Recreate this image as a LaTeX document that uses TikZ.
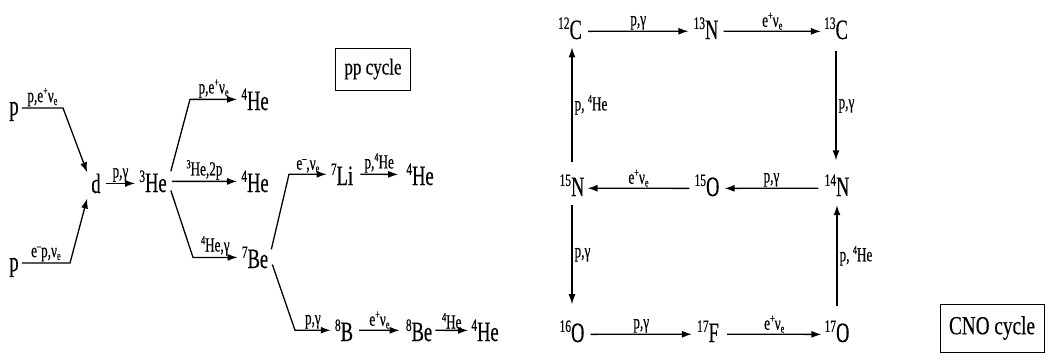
\documentclass[tikz,border=0pt]{standalone}
\usepackage{fontspec}
\setmainfont{Liberation Serif}[FakeStretch=0.66,FakeBold=0.4]
\newfontfamily\boxfont{Liberation Serif}[FakeStretch=0.74,FakeBold=0.3]
\usetikzlibrary{arrows.meta}
\makeatletter
\newcommand\hi[1]{\raisebox{0.36em}{\fontsize{\fpeval{0.62*\f@size}}{\fpeval{0.62*\f@size}}\selectfont #1}}
\newcommand\lo[1]{\raisebox{-0.14em}{\fontsize{\fpeval{0.62*\f@size}}{\fpeval{0.62*\f@size}}\selectfont #1}}
\makeatother
\tikzset{
  el/.style={inner sep=0pt, anchor=base, font=\fontsize{28}{30}\selectfont},
  lab/.style={inner sep=0pt, font=\fontsize{20}{21}\selectfont},
  arr/.style={-{Latex[length=10pt,width=7pt]}, line width=1.3pt},
  boxlab/.style={draw, line width=1pt, inner sep=0pt, font=\boxfont}
}
\begin{document}
\begin{tikzpicture}[x=1pt,y=-1pt]
\useasboundingbox (0,0) rectangle (1047,360);
% ---------------- pp chain ----------------
\node[el] (pA) at (14,115) {p};
\node[el] (pB) at (14,271) {p};
\node[el] (d) at (96,193) {d};
\node[el] (he3) at (153,192) {\hi{3}He};
\node[el] (he4a) at (255,110) {\hi{4}He};
\node[el] (he4b) at (255,192) {\hi{4}He};
\node[el] (be7) at (255,268) {\hi{7}Be};
\node[el] (li7) at (342,185) {\hi{7}Li};
\node[el] (he4c) at (420,185) {\hi{4}He};
\node[el] (b8) at (344,341) {\hi{8}B};
\node[el] (be8) at (419,341) {\hi{8}Be};
\node[el] (he4d) at (485,341) {\hi{4}He};

\coordinate (b1) at (63,108);
\coordinate (b2) at (70,263);
\coordinate (b3) at (190,0);
\coordinate (b4) at (193,0);
\coordinate (b5) at (289,0);
\coordinate (b6) at (295,0);

\draw[arr] ([xshift=3pt]pA.east |- b1) -- node[lab, above=1pt] {p,e\hi{+}ν\lo{e}} (b1)
  -- ([xshift=-4pt,yshift=1pt]d.north west);
\draw[arr] ([xshift=3pt]pB.east |- b2) -- node[lab, above=1pt] {e\hi{--}p,ν\lo{e}} (b2)
  -- ([xshift=-4pt,yshift=-5pt]d.south west);
\draw[arr] ([xshift=5pt]d.east) -- node[lab, above=1pt] {p,γ} ([xshift=-4pt]he3.west |- d.east);

\draw[arr] ([xshift=4pt,yshift=-1pt]he3.north east) -- (b3 |- he4a.west)
  -- node[lab, above=1pt] {p,e\hi{+}ν\lo{e}} ([xshift=-4pt]he4a.west);
\draw[arr] ([xshift=5pt]he3.east) -- node[lab, above=1pt] {\hi{3}He,2p} ([xshift=-4pt]he4b.west);
\draw[arr] ([xshift=4pt,yshift=2pt]he3.south east) -- (b4 |- be7.west)
  -- node[lab, above=1pt] {\hi{4}He,γ} ([xshift=-4pt]be7.west);

\draw[arr] ([xshift=3pt,yshift=-3pt]be7.north east) -- (b5 |- li7.west)
  -- node[lab, above=1pt] {e\hi{--},ν\lo{e}} ([xshift=-4pt]li7.west);
\draw[arr] ([xshift=7pt]li7.east) -- node[lab, above=1pt] {p,\hi{4}He} ([xshift=-8pt]he4c.west);
\draw[arr] ([xshift=4pt,yshift=4pt]be7.south east) -- (b6 |- b8.west)
  -- node[lab, above=1pt] {p,γ} ([xshift=-4pt]b8.west);
\draw[arr] ([xshift=6pt]b8.east) -- node[lab, above=1pt] {e\hi{+}ν\lo{e}} ([xshift=-6pt]be8.west);
\draw[arr] ([xshift=3pt]be8.east) -- node[lab, above=1pt] {\hi{4}He} ([xshift=-3pt]he4d.west);

\node[boxlab, minimum width=75pt, minimum height=42pt, font=\boxfont\fontsize{23}{24}\selectfont] (ppbox) at (373,69) {pp cycle};

% ---------------- CNO cycle ----------------
\node[el] (c12) at (570,39) {\hi{12}C};
\node[el] (n13) at (706,39) {\hi{13}N};
\node[el] (c13) at (836,39) {\hi{13}C};
\node[el] (n15) at (572,196) {\hi{15}N};
\node[el] (o15) at (707,196) {\hi{15}O};
\node[el] (n14) at (837,196) {\hi{14}N};
\node[el] (o16) at (572,342) {\hi{16}O};
\node[el] (f17) at (708,342) {\hi{17}F};
\node[el] (o17) at (837,342) {\hi{17}O};

\draw[arr] ([xshift=6pt,yshift=-3pt]c12.east) -- node[lab, above=1pt] {p,γ} ([xshift=-5pt,yshift=-3pt]n13.west);
\draw[arr] ([xshift=5pt,yshift=-3pt]n13.east) -- node[lab, above=1pt] {e\hi{+}ν\lo{e}} ([xshift=-3pt,yshift=-3pt]c13.west);
\draw[arr] ([xshift=-6pt,yshift=-3pt]n14.west) -- node[lab, above=1pt] {p,γ} ([xshift=5pt,yshift=-3pt]o15.east);
\draw[arr] ([xshift=-5pt,yshift=-3pt]o15.west) -- node[lab, above=1pt] {e\hi{+}ν\lo{e}} ([xshift=3pt,yshift=-3pt]n15.east);
\draw[arr] ([xshift=6pt,yshift=-3pt]o16.east) -- node[lab, above=1pt] {p,γ} ([xshift=-5pt,yshift=-3pt]f17.west);
\draw[arr] ([xshift=8pt,yshift=-3pt]f17.east) -- node[lab, above=1pt] {e\hi{+}ν\lo{e}} ([xshift=-3pt,yshift=-3pt]o17.west);

\draw[arr] ([yshift=12pt]n15.north) -- node[lab, right=2pt] {p,\,\hi{4}He} ([yshift=-8pt]c12.south -| n15.north);
\draw[arr] ([yshift=-12pt]c13.south) -- node[lab, right=2pt] {p,γ} ([yshift=14pt]n14.north -| c13.south);
\draw[arr] ([yshift=-9pt]n15.south) -- node[lab, right=2pt] {p,γ} ([yshift=16pt]o16.north -| n15.south);
\draw[arr] ([yshift=14pt]o17.north) -- node[lab, right=2pt] {p,\,\hi{4}He} ([yshift=-9pt]n14.south -| o17.north);

\node[boxlab, minimum width=104pt, minimum height=48pt, font=\boxfont\fontsize{26}{27}\selectfont] (cnobox) at (992,328) {CNO cycle};
\end{tikzpicture}
\end{document}
